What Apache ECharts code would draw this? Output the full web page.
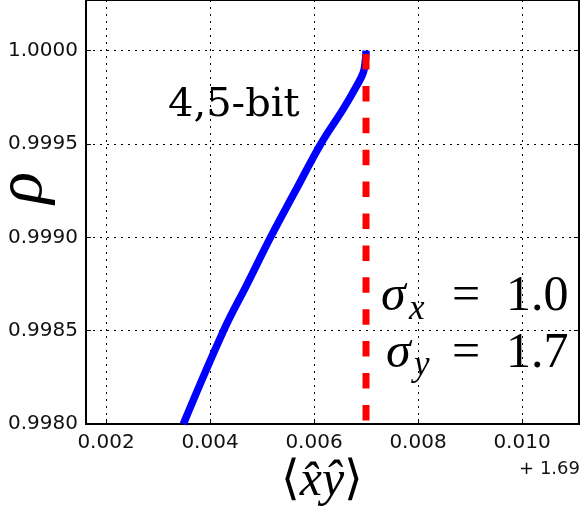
<!DOCTYPE html>
<html><head><meta charset="utf-8">
<script src="https://cdn.jsdelivr.net/npm/echarts@6/dist/echarts.min.js"></script>
<style>html,body{margin:0;padding:0;background:#fff}#c{width:586px;height:510px}</style>
</head><body><div id="c"></div>
<script>
// x values are offsets from 1.69
const xTicks = [0.002, 0.004, 0.006, 0.008, 0.010];
const yTicks = [0.9980, 0.9985, 0.9990, 0.9995, 1.0000];
const curveX = [0.003487, 0.004269, 0.004712, 0.005173, 0.005635, 0.006135, 0.006563, 0.006821, 0.006948, 0.006990, 0.007000];
const curveY = [0.998000, 0.998505, 0.998748, 0.999005, 0.999245, 0.999502, 0.999688, 0.999812, 0.999883, 0.999952, 1.000000];
const refX = [0.007, 0.007];
const refY = [1.0000, 0.9980];
const xOffsetText = '+ 1.69';
const bitsText = '4,5-bit';

const curve = curveX.map((x, i) => [x, curveY[i]]);
const ref = refX.map((x, i) => [x, refY[i]]);

const chart = echarts.init(document.getElementById('c'), null, {renderer: 'canvas'});
const dotted = {color: '#000', width: 1, type: [2, 5]};
const sans = '"DejaVu Sans", sans-serif';
chart.setOption({
  animation: false,
  grid: {left: 86, right: 7, top: -3, bottom: 86, show: true, borderColor: '#000', borderWidth: 2, backgroundColor: 'transparent'},
  xAxis: {
    type: 'value', min: 0.001615, max: 0.011096,
    axisLine: {show: true, onZero: false, lineStyle: {color: '#000', width: 2}},
    axisTick: {show: true, inside: true, length: 5, customValues: xTicks, lineStyle: {color: '#000'}},
    axisLabel: {show: true, customValues: xTicks, margin: 9, color: '#111', fontFamily: sans, fontSize: 20,
      formatter: v => v.toFixed(3)},
    splitLine: {show: true, lineStyle: dotted}
  },
  yAxis: [{
    type: 'value', min: 0.998, max: 1.000271,
    axisLine: {show: true, onZero: false, lineStyle: {color: '#000', width: 2}},
    axisTick: {show: true, inside: true, length: 5, customValues: yTicks, lineStyle: {color: '#000'}},
    axisLabel: {show: true, customValues: yTicks, margin: 8, color: '#111', fontFamily: sans, fontSize: 20,
      formatter: v => v.toFixed(4)},
    splitLine: {show: true, lineStyle: dotted}
  }, {
    type: 'value', min: 0.998, max: 1.000271, position: 'right',
    axisLine: {show: false},
    axisTick: {show: true, inside: true, length: 5, customValues: yTicks, lineStyle: {color: '#000'}},
    axisLabel: {show: false},
    splitLine: {show: false}
  }],
  series: [{
    type: 'line', data: curve, showSymbol: false, symbol: 'none', z: 3, smooth: 0.4,
    lineStyle: {color: '#0000ff', width: 7.5, cap: 'butt', join: 'round'}
  }, {
    type: 'line', data: ref, showSymbol: false, symbol: 'none', z: 4,
    lineStyle: {color: '#ff0000', width: 7, type: [15.5, 16.4], dashOffset: 28.5, cap: 'butt'}
  }],
  graphic: [
    {type: 'text', x: 168, y: 106, z: 10, style: {text: bitsText, font: '40px "DejaVu Serif"', fill: '#000', textAlign: 'left', textVerticalAlign: 'middle'}},
    {type: 'text', x: 24, y: 188, rotation: Math.PI / 2, z: 10, style: {text: 'ρ', font: 'italic 66px "Liberation Serif"', fill: '#000', textAlign: 'center', textVerticalAlign: 'middle'}},
    {type: 'text', x: 322, y: 482, z: 10, style: {
      text: '{b|⟨}{v|x\u0302ŷ}{b|⟩}', textAlign: 'center', textVerticalAlign: 'middle',
      rich: {b: {font: '200 48px "DejaVu Sans"', fill: '#000'}, v: {font: 'italic 50px "Liberation Serif"', fill: '#000'}}}},
    {type: 'text', x: 580, y: 469, z: 10, style: {text: xOffsetText, font: '18px "DejaVu Sans"', fill: '#111', textAlign: 'right', textVerticalAlign: 'middle'}},
    // sigma lines
    {type: 'text', x: 381, y: 297, z: 10, style: {text: 'σ', font: 'italic 50px "Liberation Serif"', fill: '#000', textAlign: 'left', textVerticalAlign: 'middle'}},
    {type: 'text', x: 409, y: 310, z: 10, style: {text: 'x', font: 'italic 35px "Liberation Serif"', fill: '#000', textAlign: 'left', textVerticalAlign: 'middle'}},
    {type: 'text', x: 452, y: 297, z: 10, style: {text: '=', font: '50px "Liberation Serif"', fill: '#000', textAlign: 'left', textVerticalAlign: 'middle'}},
    {type: 'text', x: 506, y: 297, z: 10, style: {text: '1.0', font: '50px "Liberation Serif"', fill: '#000', textAlign: 'left', textVerticalAlign: 'middle'}},
    {type: 'text', x: 386, y: 354, z: 10, style: {text: 'σ', font: 'italic 50px "Liberation Serif"', fill: '#000', textAlign: 'left', textVerticalAlign: 'middle'}},
    {type: 'text', x: 414, y: 366, z: 10, style: {text: 'y', font: 'italic 35px "Liberation Serif"', fill: '#000', textAlign: 'left', textVerticalAlign: 'middle'}},
    {type: 'text', x: 452, y: 354, z: 10, style: {text: '=', font: '50px "Liberation Serif"', fill: '#000', textAlign: 'left', textVerticalAlign: 'middle'}},
    {type: 'text', x: 506, y: 354, z: 10, style: {text: '1.7', font: '50px "Liberation Serif"', fill: '#000', textAlign: 'left', textVerticalAlign: 'middle'}}
  ]
});
</script></body></html>
